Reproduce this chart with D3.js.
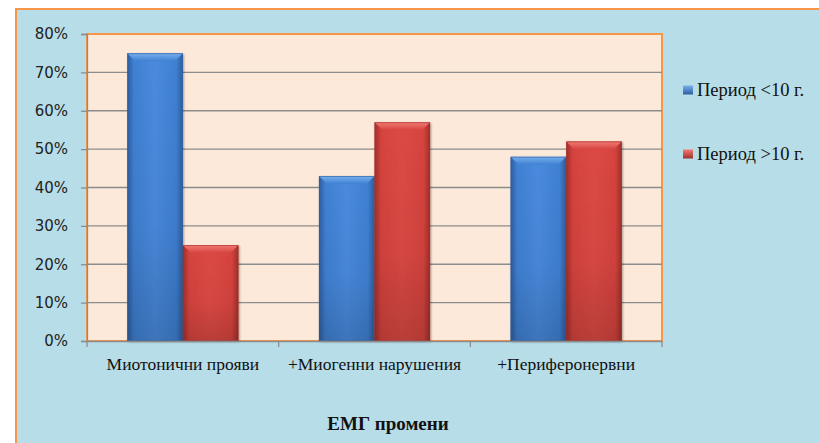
<!DOCTYPE html>
<html>
<head>
<meta charset="utf-8">
<script src="https://cdn.jsdelivr.net/npm/d3@7"></script>
<style>
  html, body { margin: 0; padding: 0; background: #ffffff; }
  svg { display: block; }
</style>
</head>
<body>
<svg id="chart" width="819" height="443"></svg>
<script>
// EMG changes by disease duration
const categories = ["Миотонични прояви", "+Миогенни нарушения", "+Периферонервни"];
const seriesNames = ["Период <10 г.", "Период >10 г."];
const periodUnder10 = [75, 43, 48];
const periodOver10 = [25, 57, 52];
const yTicks = [0, 10, 20, 30, 40, 50, 60, 70, 80];
const axisTitle = "ЕМГ промени";

const svg = d3.select("#chart");
const W = 819, H = 443;
const SERIF = "'Liberation Serif', 'Times New Roman', serif";

const plot = { left: 87, right: 662, top: 34, bottom: 341 };

const x = d3.scaleBand().domain(categories)
  .range([plot.left, plot.right]).paddingInner(0.42).paddingOuter(0.21);
const xSub = d3.scaleBand().domain(seriesNames).range([0, x.bandwidth()]);
const y = d3.scaleLinear().domain([0, 80]).range([plot.bottom, plot.top]);
const boundary = d3.scaleLinear().domain([0, categories.length]).range([plot.left, plot.right]);

const palettes = {
  "Период <10 г.": { edge: "#2d5d9f", mid: "#3f80d2", light: "#4a8ade", bevel: "#7ab1ee" },
  "Период >10 г.": { edge: "#9e2f2b", mid: "#d6433e", light: "#dc4a45", bevel: "#f37c76" }
};

const defs = svg.append("defs");
Object.entries(palettes).forEach(([name, p], i) => {
  const g = defs.append("linearGradient").attr("id", "body" + i).attr("x1", 0).attr("x2", 1).attr("y1", 0).attr("y2", 0);
  g.append("stop").attr("offset", "0%").attr("stop-color", p.edge);
  g.append("stop").attr("offset", "12%").attr("stop-color", p.mid);
  g.append("stop").attr("offset", "50%").attr("stop-color", p.light);
  g.append("stop").attr("offset", "88%").attr("stop-color", p.mid);
  g.append("stop").attr("offset", "100%").attr("stop-color", p.edge);
  const b = defs.append("linearGradient").attr("id", "bevel" + i).attr("x1", 0).attr("x2", 0).attr("y1", 0).attr("y2", 1);
  b.append("stop").attr("offset", "0%").attr("stop-color", p.bevel);
  b.append("stop").attr("offset", "100%").attr("stop-color", p.mid);
  const k = defs.append("linearGradient").attr("id", "key" + i).attr("x1", 0).attr("x2", 0).attr("y1", 0).attr("y2", 1);
  k.append("stop").attr("offset", "0%").attr("stop-color", p.bevel);
  k.append("stop").attr("offset", "100%").attr("stop-color", p.edge);
});
const shade = defs.append("linearGradient").attr("id", "shade").attr("x1", 0).attr("x2", 0).attr("y1", 0).attr("y2", 1);
shade.append("stop").attr("offset", "0%").attr("stop-color", "#000").attr("stop-opacity", 0);
shade.append("stop").attr("offset", "60%").attr("stop-color", "#000").attr("stop-opacity", 0.04);
shade.append("stop").attr("offset", "100%").attr("stop-color", "#000").attr("stop-opacity", 0.16);
const shadow = defs.append("filter").attr("id", "shadow").attr("x", "-20%").attr("y", "-10%").attr("width", "140%").attr("height", "120%");
shadow.append("feDropShadow").attr("dx", 1).attr("dy", 1).attr("stdDeviation", 1.2).attr("flood-color", "#000").attr("flood-opacity", 0.35);

// chart area
svg.append("rect").attr("x", 16).attr("y", 9).attr("width", W + 10).attr("height", H + 10)
  .attr("fill", "#b7dde8").attr("stroke", "#f79646").attr("stroke-width", 2);

// plot area
svg.append("rect").attr("x", plot.left).attr("y", plot.top)
  .attr("width", plot.right - plot.left).attr("height", plot.bottom - plot.top)
  .attr("fill", "#fde9d9").attr("stroke", "#f79646").attr("stroke-width", 2);

// gridlines
svg.append("g").selectAll("line").data(yTicks.filter(t => t > 0 && t < 80)).join("line")
  .attr("x1", plot.left).attr("x2", plot.right)
  .attr("y1", d => y(d)).attr("y2", d => y(d))
  .attr("stroke", "#8c8c8c").attr("stroke-width", 1.3);

// y axis
const yAxis = svg.append("g").attr("transform", `translate(${plot.left},0)`)
  .call(d3.axisLeft(y).tickValues(yTicks).tickFormat(d => d + "%").tickSize(6).tickPadding(13));
yAxis.select(".domain").attr("stroke", "#8c8c8c").attr("stroke-width", 1.3);
yAxis.selectAll(".tick line").attr("stroke", "#8c8c8c").attr("stroke-width", 1.3);
yAxis.selectAll("text").attr("font-family", "'DejaVu Sans', Verdana, sans-serif")
  .attr("font-size", 15).attr("fill", "#222");

// bars
const rows = categories.map((c, i) => ({ cat: c, values: [periodUnder10[i], periodOver10[i]] }));
const groups = svg.append("g").selectAll("g").data(rows).join("g")
  .attr("transform", d => `translate(${x(d.cat)},0)`);
const bars = groups.selectAll("g").data(d => d.values.map((v, j) => ({ s: seriesNames[j], j, v }))).join("g")
  .attr("filter", "url(#shadow)");
const bev = 8;
bars.append("rect")
  .attr("x", d => xSub(d.s)).attr("y", d => y(d.v))
  .attr("width", xSub.bandwidth()).attr("height", d => y(0) - y(d.v))
  .attr("fill", d => `url(#body${d.j})`);
bars.append("rect")
  .attr("x", d => xSub(d.s)).attr("y", d => y(d.v))
  .attr("width", xSub.bandwidth()).attr("height", d => y(0) - y(d.v))
  .attr("fill", "url(#shade)");
bars.append("path")
  .attr("d", d => {
    const x0 = xSub(d.s), x1 = x0 + xSub.bandwidth(), t = y(d.v);
    return `M${x0},${t}L${x1},${t}L${x1 - bev},${t + bev}L${x0 + bev},${t + bev}Z`;
  })
  .attr("fill", d => `url(#bevel${d.j})`);
bars.append("rect")
  .attr("x", d => xSub(d.s) + 0.5).attr("y", d => y(d.v) + 0.5)
  .attr("width", xSub.bandwidth() - 1).attr("height", d => y(0) - y(d.v) - 1)
  .attr("fill", "none").attr("stroke", d => palettes[d.s].edge).attr("stroke-opacity", 0.6);

// x axis
svg.append("line").attr("x1", plot.left).attr("x2", plot.right)
  .attr("y1", plot.bottom + 0.5).attr("y2", plot.bottom + 0.5)
  .attr("stroke", "#8c8c8c").attr("stroke-width", 1.3);
svg.append("g").selectAll("line").data(d3.range(categories.length + 1)).join("line")
  .attr("x1", d => boundary(d)).attr("x2", d => boundary(d))
  .attr("y1", plot.bottom).attr("y2", plot.bottom + 6)
  .attr("stroke", "#8c8c8c").attr("stroke-width", 1.3);
const xAxis = svg.append("g").attr("transform", `translate(0,${plot.bottom})`)
  .call(d3.axisBottom(x).tickSize(0).tickPadding(17));
xAxis.select(".domain").remove();
xAxis.selectAll("text").attr("font-family", SERIF)
  .attr("font-size", 17.5).attr("fill", "#111");

// axis title
svg.append("text").attr("x", 388).attr("y", 430).attr("text-anchor", "middle")
  .attr("font-family", SERIF).attr("font-weight", "bold")
  .attr("font-size", 19).attr("fill", "#111").text(axisTitle);

// legend
const legend = svg.append("g").selectAll("g").data(seriesNames).join("g")
  .attr("transform", (d, i) => `translate(683,${90 + i * 64})`);
legend.append("rect").attr("x", 0).attr("y", -4.5).attr("width", 10).attr("height", 9)
  .attr("fill", (d, i) => `url(#key${i})`);
legend.append("text").attr("x", 14).attr("y", 0).attr("dy", "0.35em")
  .attr("font-family", SERIF).attr("font-size", 18.5)
  .attr("fill", "#111").text(d => d);
</script>
</body>
</html>
